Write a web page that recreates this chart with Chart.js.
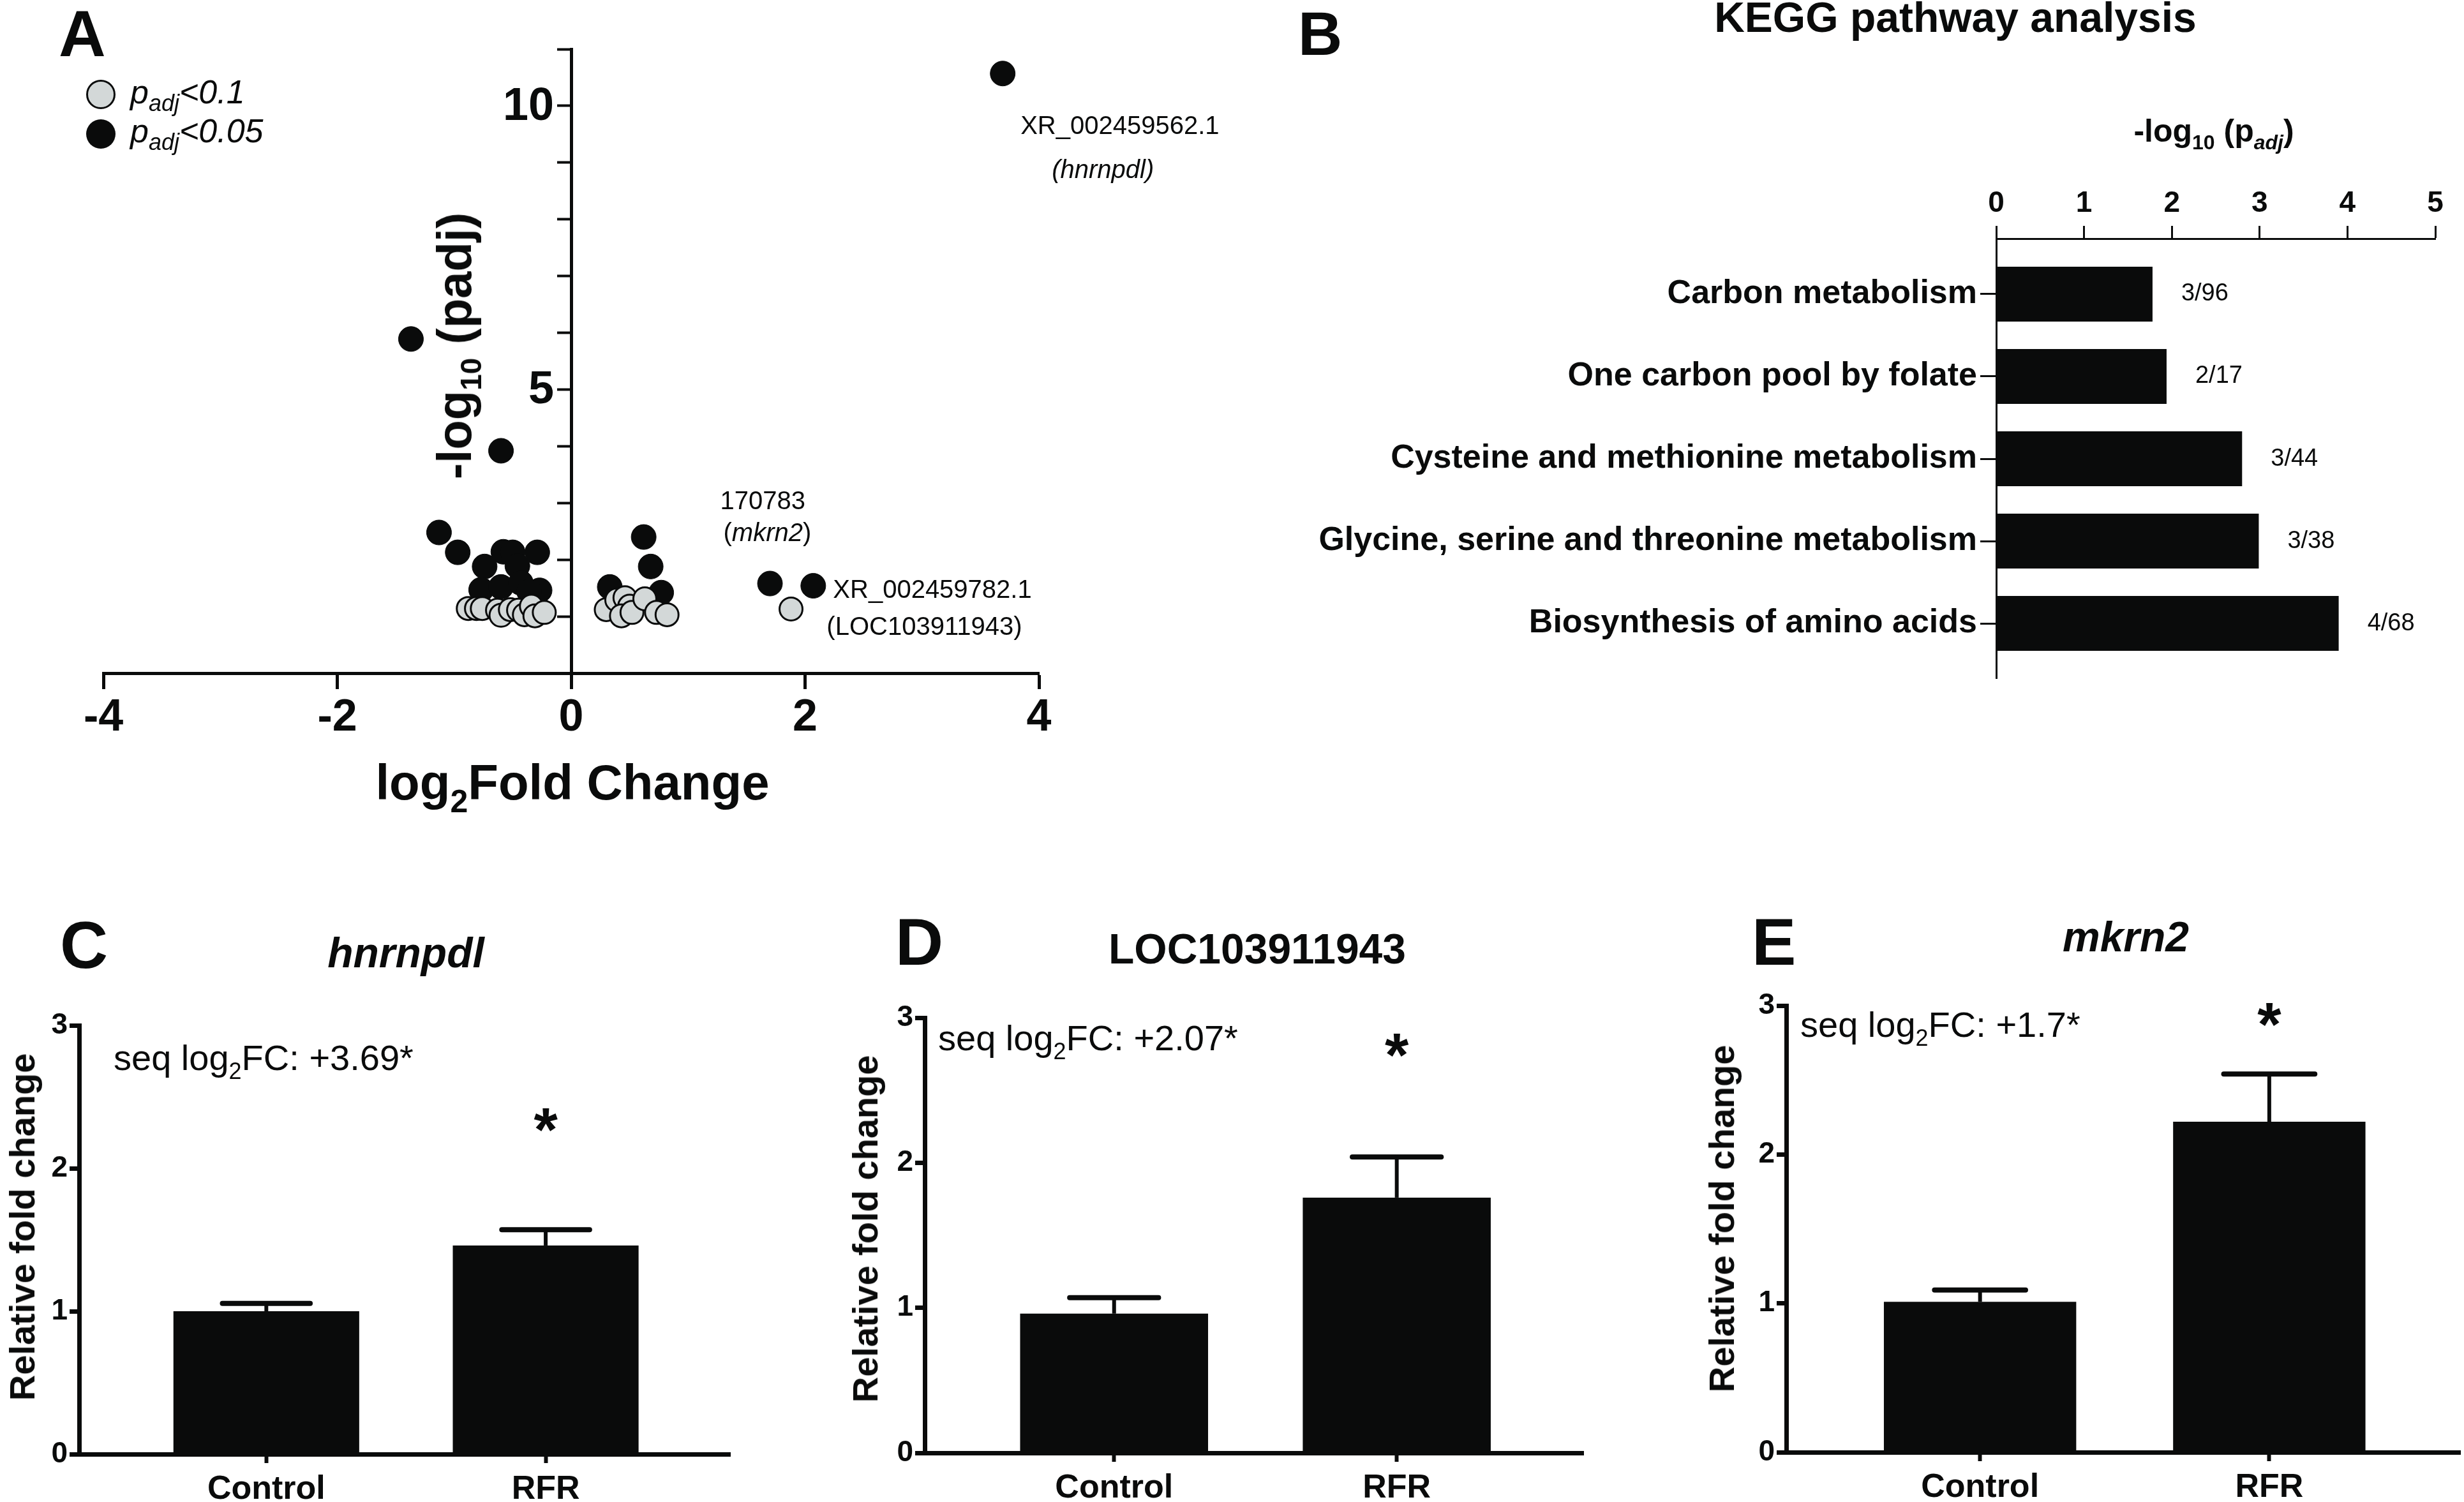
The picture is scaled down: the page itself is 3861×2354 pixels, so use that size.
<!DOCTYPE html>
<html><head><meta charset="utf-8">
<script src="https://cdn.jsdelivr.net/npm/chart.js@4.4.1/dist/chart.umd.min.js"></script>
<style>
html,body{margin:0;padding:0;background:#fff;}
#fig{position:relative;width:3861px;height:2354px;overflow:hidden;background:#fff;font-family:"Liberation Sans",Arial,Helvetica,sans-serif;color:#0a0b0b;}
#fig canvas{position:absolute;}
.t{position:absolute;white-space:nowrap;line-height:1;}
</style></head><body><div id="fig"></div>
<script>
// ---------------- DATA ----------------
// Panel A: volcano plot (log2 fold change vs -log10 padj)
const sig005Log2FC = [3.69, -1.37, -0.60, -1.13, -0.97, -0.74, -0.58, -0.50, -0.29, -0.46, -0.77, -0.60, -0.43, -0.27, -0.36, 0.62, 0.68, 0.33, 0.77, 1.70, 2.07];
const sig005NegLogPadj = [10.57, 5.89, 3.92, 2.48, 2.13, 1.88, 2.14, 2.13, 2.13, 1.89, 1.47, 1.52, 1.59, 1.46, 1.44, 2.40, 1.88, 1.52, 1.42, 1.58, 1.54];
const sig01Log2FC = [-0.88, -0.81, -0.76, -0.63, -0.60, -0.52, -0.45, -0.40, -0.34, -0.31, -0.23, 0.30, 0.39, 0.46, 0.50, 0.43, 0.52, 0.63, 0.73, 0.82, 1.88];
const sig01NegLogPadj = [1.14, 1.14, 1.14, 1.11, 1.02, 1.12, 1.11, 1.03, 1.18, 1.01, 1.07, 1.12, 1.29, 1.33, 1.18, 1.01, 1.07, 1.31, 1.07, 1.03, 1.13];
const volcanoXTicks = [-4, -2, 0, 2, 4];
const volcanoYLabelled = [5, 10];
const volcanoLegend = ['<0.1', '<0.05'];
// gene labels anchored to points of the padj<0.05 series (by index)
const geneNotes = [
  {idx: 0, lines: [{dx: 28, dy: 95, align: 'left', segs: [['XR_002459562.1', 0]]},
                   {dx: 157, dy: 164, align: 'center', segs: [['(hnrnpdl)', 1]]}]},
  {idx: 19, lines: [{dx: -78, dy: -117, align: 'left', segs: [['170783', 0]]},
                    {dx: -73, dy: -67, align: 'left', segs: [['(', 0], ['mkrn2', 1], [')', 0]]}]},
  {idx: 20, lines: [{dx: 31, dy: 19, align: 'left', segs: [['XR_002459782.1', 0]]},
                    {dx: 21, dy: 77, align: 'left', segs: [['(LOC103911943)', 0]]}]}
];

// Panel B: KEGG pathway analysis
const keggPathways = ['Carbon metabolism', 'One carbon pool by folate', 'Cysteine and methionine metabolism', 'Glycine, serine and threonine metabolism', 'Biosynthesis of amino acids'];
const keggNegLogPadj = [1.78, 1.94, 2.80, 2.99, 3.90];
const keggGeneRatio = ['3/96', '2/17', '3/44', '3/38', '4/68'];
const keggXTicks = [0, 1, 2, 3, 4, 5];

// Panels C-E: qPCR relative fold change (mean, SEM)
const qpcrGroups = ['Control', 'RFR'];
const qpcrYTicks = [0, 1, 2, 3];
const hnrnpdlMean = [1.00, 1.46];
const hnrnpdlSem = [0.055, 0.11];
const locMean = [0.96, 1.76];
const locSem = [0.11, 0.28];
const mkrn2Mean = [1.01, 2.22];
const mkrn2Sem = [0.08, 0.32];
const seqLog2FC = ['+3.69*', '+2.07*', '+1.7*'];
const starLevel = [2.37, 2.84, 2.97];

// ---------------- STYLE / HELPERS ----------------
const INK = '#0a0b0b';
const GREY = '#d3d8d8';
const FONT = '"Liberation Sans", Arial, Helvetica, sans-serif';
Chart.defaults.font.family = FONT;
Chart.defaults.color = INK;
const fig = document.getElementById('fig');

function makeCanvas(l, t, w, h) {
  const c = document.createElement('canvas');
  c.width = w; c.height = h;
  c.style.left = l + 'px'; c.style.top = t + 'px';
  c.style.width = w + 'px'; c.style.height = h + 'px';
  fig.appendChild(c);
  return c;
}
function sub(text, size, drop, extra) {
  return `<span style="font-size:${size}px;position:relative;top:${drop}px;${extra || ''}">${text}</span>`;
}
function txt(html, x, baseline, size, opts) {
  opts = opts || {};
  const d = document.createElement('div');
  d.className = 't';
  d.innerHTML = html;
  d.style.fontSize = size + 'px';
  if (opts.bold) d.style.fontWeight = 'bold';
  if (opts.italic) d.style.fontStyle = 'italic';
  d.style.top = (baseline - 0.8465 * size) + 'px';
  d.style.left = x + 'px';
  if (opts.center) d.style.transform = 'translateX(-50%)';
  fig.appendChild(d);
  return d;
}
function vtxt(html, xBaseline, yCenter, size, opts) {
  opts = opts || {};
  const d = document.createElement('div');
  d.className = 't';
  d.innerHTML = html;
  d.style.fontSize = size + 'px';
  if (opts.bold) d.style.fontWeight = 'bold';
  d.style.left = (xBaseline - 0.3465 * size) + 'px';
  d.style.top = yCenter + 'px';
  d.style.transform = 'translate(-50%,-50%) rotate(-90deg)';
  fig.appendChild(d);
  return d;
}
function dot(cx, cy, r, fill, bw) {
  const d = document.createElement('div');
  d.style.cssText = `position:absolute;left:${cx - r}px;top:${cy - r}px;width:${2 * r}px;height:${2 * r}px;border-radius:50%;background:${fill};box-sizing:border-box;border:${bw}px solid ${INK};`;
  fig.appendChild(d);
}
function drawSegs(ctx, segs, x, y, align, size) {
  const fonts = segs.map(s => (s[1] ? 'italic ' : '') + size + 'px ' + FONT);
  let total = 0;
  const widths = segs.map((s, i) => { ctx.font = fonts[i]; const w = ctx.measureText(s[0]).width; total += w; return w; });
  let cx = align === 'center' ? x - total / 2 : x;
  segs.forEach((s, i) => { ctx.font = fonts[i]; ctx.textAlign = 'left'; ctx.fillText(s[0], cx, y); cx += widths[i]; });
}

const baseOpts = {responsive: false, animation: false, devicePixelRatio: 1, events: []};

// ---------------- PANEL A ----------------
const geneNotePlugin = {
  id: 'geneNotes',
  afterDatasetsDraw(chart) {
    const {ctx} = chart; const xs = chart.scales.x, ys = chart.scales.y;
    ctx.save(); ctx.fillStyle = INK; ctx.textBaseline = 'alphabetic';
    geneNotes.forEach(n => {
      const px = xs.getPixelForValue(sig005Log2FC[n.idx]);
      const py = ys.getPixelForValue(sig005NegLogPadj[n.idx]);
      n.lines.forEach(l => drawSegs(ctx, l.segs, px + l.dx, py + l.dy, l.align, 40));
    });
    ctx.restore();
  }
};
// y tick labels of the centred axis, placed left of its tick marks
const centredYLabelPlugin = {
  id: 'centredYLabels',
  afterDraw(chart) {
    const {ctx} = chart; const ys = chart.scales.y;
    const x0 = chart.scales.x.getPixelForValue(0);
    ctx.save(); ctx.fillStyle = INK; ctx.font = 'bold 72px ' + FONT; ctx.textAlign = 'right'; ctx.textBaseline = 'middle';
    ys.ticks.forEach(t => {
      if (volcanoYLabelled.includes(t.value)) ctx.fillText(String(t.value), x0 - 27, ys.getPixelForValue(t.value) + 2);
    });
    ctx.restore();
  }
};
new Chart(makeCanvas(0, 0, 1960, 1300), {
  type: 'scatter',
  data: {datasets: [
    {label: 'padj' + volcanoLegend[0], data: sig01Log2FC.map((x, i) => ({x, y: sig01NegLogPadj[i]})),
     backgroundColor: GREY, borderColor: INK, borderWidth: 3, pointRadius: 18, clip: false},
    {label: 'padj' + volcanoLegend[1], data: sig005Log2FC.map((x, i) => ({x, y: sig005NegLogPadj[i]})),
     backgroundColor: INK, borderColor: INK, borderWidth: 1, pointRadius: 19.5, clip: false}
  ]},
  options: Object.assign({}, baseOpts, {
    layout: {padding: {left: 162, right: 332, top: 77, bottom: 0}},
    plugins: {legend: {display: false}, tooltip: {enabled: false}},
    scales: {
      x: {type: 'linear', min: -4, max: 4,
          afterBuildTicks: s => { s.ticks = volcanoXTicks.map(v => ({value: v})); },
          ticks: {font: {size: 70, weight: 'bold'}, color: INK, padding: 4, autoSkip: false, maxRotation: 0},
          grid: {drawOnChartArea: false, tickLength: 25, tickWidth: 5, tickColor: INK},
          border: {width: 5, color: INK},
          afterFit: s => { s.height = 245; }},
      y: {type: 'linear', min: 0, max: 11, position: {x: 0},
          ticks: {stepSize: 1, autoSkip: false, display: false},
          grid: {drawOnChartArea: false, tickLength: 20, tickWidth: 4, tickColor: INK},
          border: {width: 5, color: INK}}
    }
  }),
  plugins: [geneNotePlugin, centredYLabelPlugin]
});
txt('A', 92, 88, 102, {bold: true});
dot(158, 148, 23, GREY, 3);
dot(158, 210, 23, INK, 0);
txt('p' + sub('adj', 36, 12) + volcanoLegend[0].replace('<', '&lt;'), 204, 162, 52, {italic: true});
txt('p' + sub('adj', 36, 12) + volcanoLegend[1].replace('<', '&lt;'), 204, 223, 52, {italic: true});
vtxt('-log' + sub('10', 46, 16) + ' (padj)', 738, 542, 76, {bold: true});
txt('log' + sub('2', 50, 20) + 'Fold Change', 897, 1253, 78, {bold: true, center: true});

// ---------------- PANEL B ----------------
const ratioPlugin = {
  id: 'geneRatio',
  afterDatasetsDraw(chart) {
    const {ctx} = chart; const meta = chart.getDatasetMeta(0);
    ctx.save(); ctx.fillStyle = INK; ctx.font = '38px ' + FONT; ctx.textAlign = 'left'; ctx.textBaseline = 'middle';
    meta.data.forEach((bar, i) => ctx.fillText(keggGeneRatio[i], bar.x + 45, bar.y));
    ctx.restore();
  }
};
new Chart(makeCanvas(2000, 0, 1861, 1100), {
  type: 'bar',
  data: {datasets: [{data: keggNegLogPadj.map((v, i) => ({x: v, y: i})), backgroundColor: INK, borderWidth: 0,
                     barPercentage: 0.667, categoryPercentage: 1}]},
  options: Object.assign({}, baseOpts, {
    indexAxis: 'y',
    layout: {padding: {left: 0, top: 0, right: 45, bottom: 37}},
    plugins: {legend: {display: false}, tooltip: {enabled: false}},
    scales: {
      x: {type: 'linear', position: 'top', min: 0, max: 5,
          afterBuildTicks: s => { s.ticks = keggXTicks.map(v => ({value: v})); },
          ticks: {font: {size: 46, weight: 'bold'}, color: INK, padding: 7, autoSkip: false, maxRotation: 0},
          grid: {drawOnChartArea: false, tickLength: 20, tickWidth: 3, tickColor: INK},
          border: {width: 3, color: INK},
          afterFit: s => { s.height = 374; }},
      y: {type: 'linear', reverse: true, min: -0.674, max: 4.666, offset: false,
          afterBuildTicks: s => { s.ticks = keggPathways.map((_, i) => ({value: i})); },
          ticks: {callback: v => keggPathways[v], autoSkip: false, font: {size: 52, weight: 'bold'}, color: INK, padding: 5},
          grid: {offset: false, drawOnChartArea: false, tickLength: 25, tickWidth: 3, tickColor: INK},
          border: {width: 3, color: INK},
          afterFit: s => { s.width = 1128; }}
    }
  }),
  plugins: [ratioPlugin]
});
txt('B', 2034, 86, 96, {bold: true});
txt('KEGG pathway analysis', 3064, 50, 66, {bold: true, center: true});
txt('-log' + sub('10', 32, 12) + ' (p' + sub('adj', 32, 12, 'font-style:italic') + ')', 3469, 222, 50, {bold: true, center: true});

// ---------------- PANELS C-E ----------------
const errorBarPlugin = {
  id: 'errorBars',
  afterDatasetsDraw(chart) {
    const {ctx} = chart; const ys = chart.scales.y;
    chart.data.datasets.forEach((ds, di) => {
      if (!ds.errorBars) return;
      chart.getDatasetMeta(di).data.forEach((bar, i) => {
        const top = ys.getPixelForValue(ds.data[i].y + ds.errorBars[i]);
        const half = bar.width / 4;
        ctx.save(); ctx.strokeStyle = INK;
        ctx.lineWidth = 6; ctx.lineCap = 'butt';
        ctx.beginPath(); ctx.moveTo(bar.x, bar.y); ctx.lineTo(bar.x, top); ctx.stroke();
        ctx.lineWidth = 8; ctx.lineCap = 'round';
        ctx.beginPath(); ctx.moveTo(bar.x - half + 4, top); ctx.lineTo(bar.x + half - 4, top); ctx.stroke();
        ctx.restore();
      });
    });
  }
};
function starPlugin(index, level) {
  return {
    id: 'sigStar',
    afterDatasetsDraw(chart) {
      const {ctx} = chart; const bar = chart.getDatasetMeta(0).data[index];
      const y = chart.scales.y.getPixelForValue(level);
      ctx.save(); ctx.fillStyle = INK; ctx.font = 'bold 96px ' + FONT; ctx.textAlign = 'center'; ctx.textBaseline = 'alphabetic';
      ctx.fillText('*', bar.x, y + 0.57 * 96);
      ctx.restore();
    }
  };
}
function qpcrPanel(cfg) {
  new Chart(makeCanvas(cfg.left, cfg.top, cfg.w, cfg.h), {
    type: 'bar',
    data: {datasets: [{data: cfg.mean.map((v, i) => ({x: i, y: v})), errorBars: cfg.sem, backgroundColor: INK, borderWidth: 0,
                       barPercentage: 0.665, categoryPercentage: 1}]},
    options: Object.assign({}, baseOpts, {
      layout: {padding: {left: 0, top: cfg.padTop, right: cfg.padRight, bottom: 0}},
      plugins: {legend: {display: false}, tooltip: {enabled: false}},
      scales: {
        x: {type: 'linear', min: -0.67, max: 1.66, offset: false,
            afterBuildTicks: s => { s.ticks = qpcrGroups.map((_, i) => ({value: i})); },
            ticks: {callback: v => qpcrGroups[v], autoSkip: false, maxRotation: 0, font: {size: 52, weight: 'bold'}, color: INK, padding: 10},
            grid: {offset: false, drawOnChartArea: false, tickLength: 14, tickWidth: 6, tickColor: INK},
            border: {width: 7, color: INK, z: 1},
            afterFit: s => { s.height = cfg.xAxisH; }},
        y: {type: 'linear', min: 0, max: 3,
            afterBuildTicks: s => { s.ticks = qpcrYTicks.map(v => ({value: v})); },
            ticks: {font: {size: 46, weight: 'bold'}, color: INK, padding: 3, autoSkip: false},
            grid: {drawOnChartArea: false, tickLength: 15, tickWidth: 7, tickColor: INK},
            border: {width: 7, color: INK, z: 1},
            afterFit: s => { s.width = cfg.yAxisW; }}
      }
    }),
    plugins: [errorBarPlugin, starPlugin(1, cfg.star)]
  });
}
qpcrPanel({left: 0, top: 1380, w: 1260, h: 974, yAxisW: 124, padTop: 227, padRight: 116, xAxisH: 75, mean: hnrnpdlMean, sem: hnrnpdlSem, star: starLevel[0]});
qpcrPanel({left: 1290, top: 1380, w: 1260, h: 974, yAxisW: 159, padTop: 215, padRight: 69, xAxisH: 77, mean: locMean, sem: locSem, star: starLevel[1]});
qpcrPanel({left: 2620, top: 1380, w: 1241, h: 974, yAxisW: 179, padTop: 196, padRight: 6, xAxisH: 78, mean: mkrn2Mean, sem: mkrn2Sem, star: starLevel[2]});

txt('C', 94, 1517, 104, {bold: true});
txt('D', 1403, 1512, 104, {bold: true});
txt('E', 2745, 1512, 104, {bold: true});
txt('hnrnpdl', 636, 1516, 66, {bold: true, italic: true, center: true});
txt('LOC103911943', 1970, 1510, 66, {bold: true, center: true});
txt('mkrn2', 3331, 1491, 66, {bold: true, italic: true, center: true});
txt('seq log' + sub('2', 36, 14) + 'FC: ' + seqLog2FC[0], 178, 1677, 56);
txt('seq log' + sub('2', 36, 14) + 'FC: ' + seqLog2FC[1], 1470, 1646, 56);
txt('seq log' + sub('2', 36, 14) + 'FC: ' + seqLog2FC[2], 2821, 1625, 56);
vtxt('Relative fold change', 54, 1923, 56, {bold: true});
vtxt('Relative fold change', 1375, 1926, 56, {bold: true});
vtxt('Relative fold change', 2717, 1910, 56, {bold: true});
</script></body></html>
